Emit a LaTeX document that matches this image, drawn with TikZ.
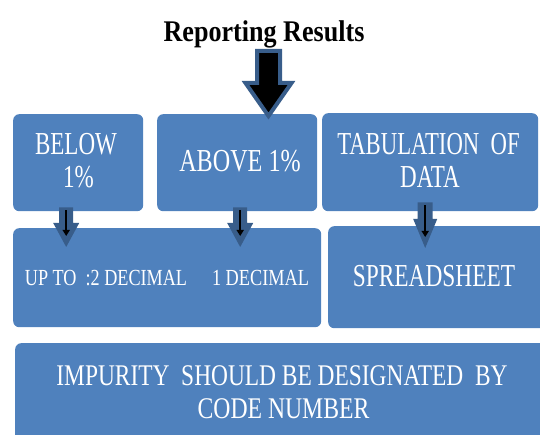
\documentclass[tikz,border=0pt]{standalone}
\usepackage{fontspec}
\setmainfont{Liberation Serif}
\usetikzlibrary{calc,arrows.meta}
\definecolor{boxblue}{HTML}{4F81BD}
\definecolor{arrowblue}{HTML}{385D8A}

% block arrow: [style]{start}{end}{shaft half width}{head half width}{head length}
\newcommand\blockarrow[6][]{%
  \path[#1] let \p1=(#2), \p2=(#3) in
    (\x1-#4,\y1) -- (\x1+#4,\y1) -- (\x1+#4,\y2+#6) -- (\x1+#5,\y2+#6)
    -- (\x1,\y2) -- (\x1-#5,\y2+#6) -- (\x1-#4,\y2+#6) -- cycle;}

\begin{document}
\begin{tikzpicture}[x=1pt,y=-1pt,
  box/.style={fill=boxblue, draw=none, rounded corners=6pt, inner sep=0pt,
              anchor=north west, rectangle},
  lbl/.style={text=white, anchor=base, inner sep=0pt},
  lbig/.style={lbl, font=\fontsize{32}{34}\selectfont},
  lmid/.style={lbl, font=\fontsize{30}{32}\selectfont},
  lsmall/.style={lbl, font=\fontsize{23}{25}\selectfont},
  smallarrow/.style={fill=arrowblue},
  inner arrow/.style={draw=black, line width=1.6pt,
                      -{Triangle[width=7pt,length=6pt]}},
  bigarrow/.style={fill=black, draw=arrowblue, line width=4pt, line join=miter}
]
\useasboundingbox (0,0) rectangle (540,435);
\clip (0,0) rectangle (540,435);

% title
\node[anchor=base, inner sep=0pt, font=\bfseries\fontsize{30}{32}\selectfont,
      xscale=0.87] (title) at (264,42) {Reporting Results};

% boxes
\node[box, minimum width=130pt, minimum height=97pt]  (below) at (13,114) {};
\node[box, minimum width=160pt, minimum height=97pt]  (above) at (157,114) {};
\node[box, minimum width=216pt, minimum height=98pt]  (tab)   at (322,113) {};
\node[box, minimum width=308pt, minimum height=99pt]  (dec)   at (13,228) {};
\node[box, minimum width=222pt, minimum height=102pt] (sheet) at (328,226) {};
\node[box, minimum width=540pt, minimum height=110pt] (imp)   at (15,343) {};

% labels
\node[lbig, xscale=0.72]  (tBelow) at (76,155)    {BELOW};
\node[lbig, xscale=0.72]  (tOne)   at (78.5,188)  {1\%};
\node[lbig, xscale=0.755] (tAbove) at (240,172)   {ABOVE 1\%};
\node[lbig, xscale=0.71]  (tTab)   at (428.5,155) {TABULATION\ \ OF};
\node[lbig, xscale=0.72]  (tData)  at (430,188)   {DATA};
\node[lsmall, xscale=0.79] (tUp)   at (106,286)   {UP TO\ \ :2 DECIMAL};
\node[lsmall, xscale=0.795] (tDec) at (260.5,286) {1 DECIMAL};
\node[lbig, xscale=0.73]  (tSheet) at (434,287)   {SPREADSHEET};
\node[lmid, xscale=0.78]  (tImp)   at (282,385)   {IMPURITY\ \ SHOULD BE DESIGNATED\ \ BY};
\node[lmid, xscale=0.79]  (tCode)  at (283.5,418) {CODE NUMBER};

% main arrow from the title into the boxes
\coordinate (bigS) at (268.5,51);
\coordinate (bigE) at ($(bigS |- above.north)+(0,2)$);
\blockarrow[bigarrow]{bigS}{bigE}{11.5pt}{23pt}{33pt}

% arrows from the first row to the second row
\coordinate (a1s) at ($(below.south)+(-12,-4)$);
\coordinate (a1e) at ($(a1s |- dec.north)+(0,19)$);
\coordinate (a2s) at ($(above.south)+(3,-4)$);
\coordinate (a2e) at ($(a2s |- dec.north)+(0,19)$);
\coordinate (a3s) at ($(tab.south)+(-5,-9)$);
\coordinate (a3e) at ($(a3s |- sheet.north)+(0,22)$);

\blockarrow[smallarrow]{a1s}{a1e}{7pt}{13pt}{24pt}
\blockarrow[smallarrow]{a2s}{a2e}{7pt}{13pt}{24pt}
\blockarrow[smallarrow]{a3s}{a3e}{7.5pt}{12pt}{29pt}

\draw[inner arrow] ($(a1s)+(0,3)$) -- ($(a1e)+(0,-11)$);
\draw[inner arrow] ($(a2s)+(0,3)$) -- ($(a2e)+(0,-11)$);
\draw[inner arrow] ($(a3s)+(0,3)$) -- ($(a3e)+(0,-11)$);
\end{tikzpicture}
\end{document}
